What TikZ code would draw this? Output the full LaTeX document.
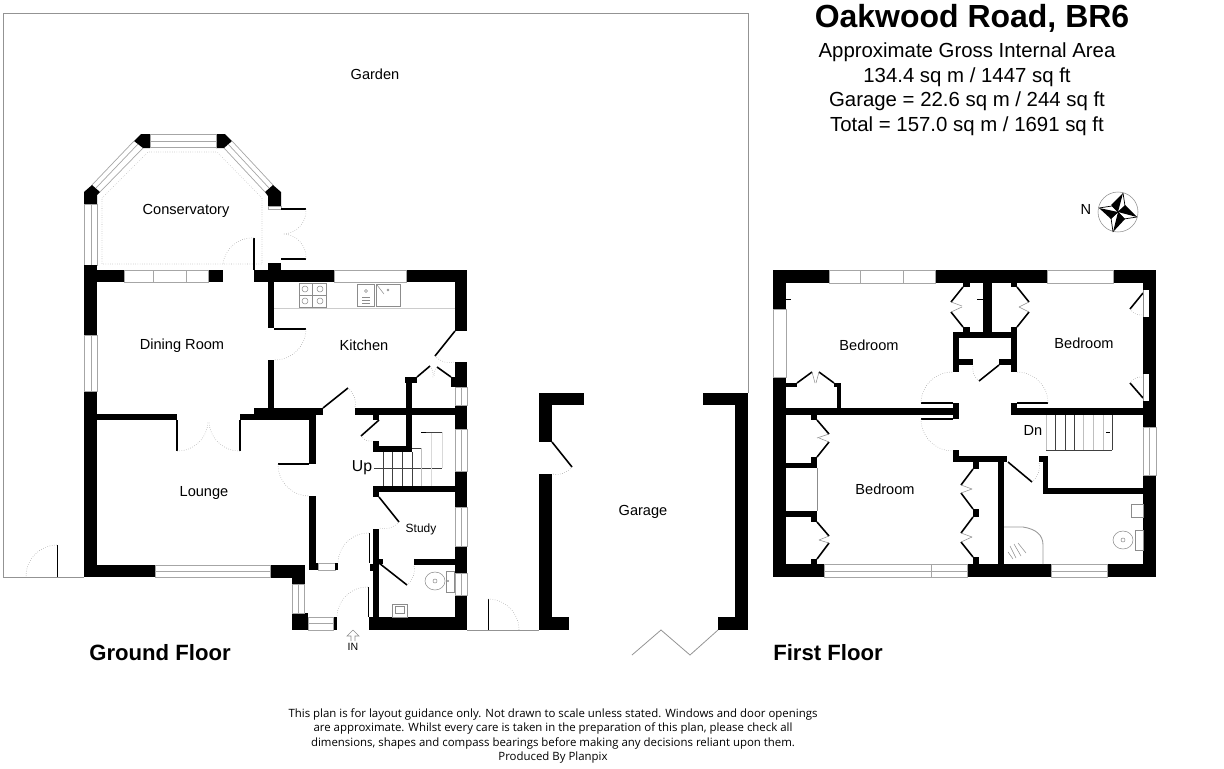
\documentclass[tikz,border=0pt]{standalone}
\usepackage{fontspec}
\setmainfont{Liberation Sans}
\newfontfamily\notefont{Open Sans}

\tikzset{
    wall/.style={fill=black, draw=none},
    leaf/.style={draw=black, line width=0.9pt},
    swing/.style={draw=gray!80, line width=0.3pt, densely dotted},
    glazing/.style={draw=gray!70, line width=0.4pt},
    fitting/.style={draw=gray!90, line width=0.3pt},
    tread/.style={draw=black!75, line width=0.35pt},
    boundary/.style={draw=gray!85, line width=0.45pt},
    roomlabel/.style={font=\fontsize{8.3}{10}\selectfont, inner sep=0pt},
    smalllabel/.style={font=\fontsize{6.8}{9}\selectfont, inner sep=0pt},
    arealabel/.style={font=\fontsize{11.6}{14}\selectfont, inner sep=0pt},
    floorlabel/.style={font=\fontsize{12.6}{15}\selectfont\bfseries, inner sep=0pt},
    notelabel/.style={font=\fontsize{6.5}{8.3}\selectfont\notefont, inner sep=0pt, align=center}
}

\begin{document}
\begin{tikzpicture}[x=0.02cm, y=-0.02cm]

    \useasboundingbox (0,0) rectangle (1224,768);

    % garden boundary
    \draw[boundary] (84,577) -- (3,577) -- (3,13) -- (748,13) -- (748,393);
    \draw[leaf, line width=0.5pt] (57,545) -- (57,577);
    \draw[swing] (57,545) to[bend right=45] (26,577);
    \draw[boundary] (467,630) -- (539,630);
    \draw[leaf, line width=0.5pt] (488,599) -- (488,630);
    \draw[swing] (488,599) to[bend left=45] (519,630);

    % conservatory
    \fill[wall] (84,192) -- (92,185) -- (100,192) -- (97,195) -- (97,204) -- (84,204) -- cycle;
    \fill[wall] (265,192) -- (273,185) -- (281,192) -- (281,206) -- (268,206) -- (268,196) -- cycle;
    \fill[wall] (134,141) -- (141,134) -- (150,134) -- (150,148) -- (143,148) -- cycle;
    \fill[wall] (216,134) -- (225,134) -- (232,141) -- (224,148) -- (216,148) -- cycle;
    \draw[glazing] (150,134) rectangle (216,147);
    \draw[glazing] (150,141) -- (216,141);
    \draw[glazing] (134,141) -- (92,185);
    \draw[glazing] (138,144) -- (96,188);
    \draw[glazing] (143,148) -- (100,192);
    \draw[glazing] (232,141) -- (273,185);
    \draw[glazing] (228,144) -- (269,188);
    \draw[glazing] (224,148) -- (265,192);
    \draw[glazing] (84,204) rectangle (97,265);
    \draw[glazing] (91,204) -- (91,265);
    \draw[glazing] (268,206) rectangle (281,209);
    \draw[swing, draw=gray!60] (102,198) -- (148,152) -- (217,152) -- (262,198) -- (262,264) -- (102,264) -- cycle;

    \draw[leaf] (254,238) -- (254,270);
    \draw[swing] (254,238) to[bend right=45] (223,265);
    \draw[leaf] (281,209) -- (306,209);
    \draw[swing] (306,209) to[bend left=45] (284,234);
    \draw[leaf] (281,259) -- (306,259);
    \draw[swing] (306,259) to[bend right=45] (284,234);

    % outer walls, ground floor
    \fill[wall] (84,265) rectangle (97,335);
    \fill[wall] (84,391) rectangle (97,577);
    \fill[wall] (97,270) rectangle (124,282);
    \fill[wall] (208,270) rectangle (223,282);
    \fill[wall] (254,270) rectangle (334,282);
    \fill[wall] (268,263) rectangle (281,270);
    \fill[wall] (406,270) rectangle (467,282);
    \fill[wall] (455,282) rectangle (467,331);
    \fill[wall] (455,362) rectangle (467,387);
    \fill[wall] (451,377) rectangle (455,387);
    \fill[wall] (455,405) rectangle (467,429);
    \fill[wall] (455,471) rectangle (467,507);
    \fill[wall] (455,546) rectangle (467,573);
    \fill[wall] (455,595) rectangle (467,630);
    \fill[wall] (97,565) rectangle (155,577);
    \fill[wall] (270,565) rectangle (305,578);
    \fill[wall] (292,578) rectangle (305,584);
    \fill[wall] (292,613) rectangle (308,630);
    \fill[wall] (333,617) rectangle (337,630);
    \fill[wall] (369,617) rectangle (455,630);

    % windows, ground floor
    \draw[glazing] (124,270) rectangle (208,282);
    \draw[glazing] (153,270) -- (153,282);
    \draw[glazing] (186,270) -- (186,282);
    \draw[glazing] (334,270) rectangle (406,282);
    \draw[glazing] (84,335) rectangle (97,391);
    \draw[glazing] (91,335) -- (91,391);
    \draw[glazing] (155,565) rectangle (270,577);
    \draw[glazing] (155,571) -- (270,571);
    \draw[glazing] (292,584) rectangle (304,613);
    \draw[glazing] (298,584) -- (298,613);
    \draw[glazing] (308,617) rectangle (333,630);
    \draw[glazing] (308,623) -- (333,623);
    \draw[glazing] (318,563) rectangle (335,570);
    \draw[glazing] (455,387) rectangle (467,405);
    \draw[glazing] (461,387) -- (461,405);
    \draw[glazing] (455,429) rectangle (467,471);
    \draw[glazing] (461,429) -- (461,471);
    \draw[glazing] (455,507) rectangle (467,546);
    \draw[glazing] (461,507) -- (461,546);
    \draw[glazing] (455,573) rectangle (467,595);
    \draw[glazing] (461,573) -- (461,595);

    % inner walls, ground floor
    \fill[wall] (97,414) rectangle (177,420);
    \fill[wall] (240,414) rectangle (254,420);
    \fill[wall] (254,408) rectangle (309,420);
    \fill[wall] (309,408) rectangle (323,415);
    \fill[wall] (268,282) rectangle (274,328);
    \fill[wall] (268,360) rectangle (274,408);
    \fill[wall] (309,415) rectangle (316,464);
    \fill[wall] (309,496) rectangle (316,563);
    \fill[wall] (309,563) rectangle (318,570);
    \fill[wall] (335,563) rectangle (338,570);
    \fill[wall] (355,408) rectangle (455,415);
    \fill[wall] (373,415) rectangle (379,420);
    \fill[wall] (373,441) rectangle (379,452);
    \fill[wall] (373,446) rectangle (412,452);
    \fill[wall] (406,377) rectangle (412,452);
    \fill[wall] (405,377) rectangle (417,383);
    \fill[wall] (373,486) rectangle (455,492);
    \fill[wall] (373,492) rectangle (379,497);
    \fill[wall] (373,529) rectangle (379,617);
    \fill[wall] (373,559) rectangle (383,564);
    \fill[wall] (370,564) rectangle (379,571);
    \fill[wall] (414,559) rectangle (455,565);

    % doors, ground floor
    \draw[leaf] (274,329) -- (306,329);
    \draw[swing] (306,329) to[bend left=45] (274,360);
    \draw[leaf] (455,331) -- (435,356);
    \draw[swing] (435,356) to[bend right=30] (455,362);
    \draw[leaf] (417,377) -- (430,366);
    \draw[leaf] (451,377) -- (437,367);
    \draw[swing] (430,366) to[bend left=20] (433,377);
    \draw[swing] (437,367) to[bend right=20] (434,377);
    \draw[leaf] (323,408) -- (348,388);
    \draw[swing] (348,388) to[bend left=30] (355,408);
    \draw[leaf] (177,420) -- (177,451);
    \draw[swing] (177,451) to[bend right=45] (208,421);
    \draw[leaf] (240,420) -- (240,451);
    \draw[swing] (240,451) to[bend left=45] (209,421);
    \draw[leaf] (309,464) -- (278,464);
    \draw[swing] (278,464) to[bend right=45] (309,496);
    \draw[leaf] (379,420) -- (361,436);
    \draw[swing] (361,436) to[bend right=30] (373,441);
    \draw[leaf] (379,497) -- (399,522);
    \draw[swing] (399,522) to[bend left=30] (379,528);
    \draw[leaf] (379,563) -- (407,585);
    \draw[swing] (407,585) to[bend right=30] (414,565);
    \draw[leaf, line width=0.5pt] (369,533) -- (369,563);
    \draw[swing] (369,533) to[bend right=45] (338,563);
    \draw[leaf, line width=0.5pt] (368,587) -- (368,617);
    \draw[swing] (368,587) to[bend right=45] (337,617);

    % kitchen fittings
    \draw[fitting, gray!40] (274,308) -- (455,308);
    \draw[fitting] (299,283) rectangle (326,307);
    \draw[fitting] (312,283) -- (312,307);
    \draw[fitting] (299,295) -- (326,295);
    \draw[fitting] (305,289) circle (3);
    \draw[fitting] (320,289) circle (3);
    \draw[fitting] (305,301) circle (3);
    \draw[fitting] (320,301) circle (3);
    \draw[fitting] (357,284) rectangle (374,306);
    \draw[fitting] (376,284) rectangle (400,306);
    \draw[fitting] (366,291) circle (1.5);
    \draw[fitting] (362,297) -- (370,297);
    \draw[fitting] (362,300) -- (370,300);
    \draw[fitting] (362,303) -- (370,303);
    \draw[fitting] (377,285) -- (384,294);
    \draw[fitting] (388,290) circle (1);

    % stairs, ground floor
    \draw[tread] (374,468) -- (442,468);
    \draw[tread] (383,452) -- (383,486);
    \draw[tread] (392,452) -- (392,486);
    \draw[tread] (402,452) -- (402,486);
    \draw[tread] (412,452) -- (412,486);
    \draw[tread, gray!50] (421,448) -- (421,486);
    \draw[tread, gray!30] (431,432) -- (431,486);
    \draw[tread, gray!30] (442,432) -- (442,468);
    \draw[tread] (412,448) -- (421,448);
    \draw[tread] (422,432) -- (442,432);
    \fill[wall] (421,431.5) rectangle (426,432.5);

    % wc fittings
    \draw[fitting] (435,581) ellipse (10 and 9);
    \draw[fitting] (435,581) circle (2);
    \draw[fitting] (446,571) rectangle (454,592);
    \draw[fitting] (448,581) circle (0.8);
    \draw[fitting] (392,604) rectangle (407,617);
    \draw[fitting] (395,606) rectangle (404,613);

    % in arrow
    \draw[fitting] (353,630) -- (347,636) -- (351,636) -- (351,641);
    \draw[fitting] (353,630) -- (359,636) -- (355,636) -- (355,641);

    % garage
    \fill[wall] (539,393) rectangle (584,405);
    \fill[wall] (539,405) rectangle (552,442);
    \fill[wall] (539,474) rectangle (552,617);
    \fill[wall] (539,617) rectangle (569,630);
    \fill[wall] (703,393) rectangle (748,405);
    \fill[wall] (735,405) rectangle (748,630);
    \fill[wall] (718,617) rectangle (735,630);
    \draw[leaf] (552,442) -- (572,467);
    \draw[swing] (572,467) to[bend left=30] (552,474);
    \draw[boundary] (718,630) -- (690,655) -- (661,630) -- (632,655);

    % outer walls, first floor
    \fill[wall] (773,270) rectangle (829,283);
    \fill[wall] (935,270) rectangle (1047,283);
    \fill[wall] (1113,270) rectangle (1156,283);
    \fill[wall] (773,283) rectangle (786,309);
    \fill[wall] (773,377) rectangle (786,577);
    \fill[wall] (1143,283) rectangle (1156,290);
    \fill[wall] (1149,290) rectangle (1156,317);
    \fill[wall] (1143,317) rectangle (1156,374);
    \fill[wall] (1149,374) rectangle (1156,401);
    \fill[wall] (1143,401) rectangle (1156,427);
    \fill[wall] (1143,475) rectangle (1156,577);
    \fill[wall] (786,564) rectangle (824,577);
    \fill[wall] (967,564) rectangle (1051,577);
    \fill[wall] (1107,564) rectangle (1143,577);

    % windows, first floor
    \draw[glazing] (829,270) rectangle (935,283);
    \draw[glazing] (860,270) -- (860,283);
    \draw[glazing] (903,270) -- (903,283);
    \draw[glazing] (1047,270) rectangle (1113,283);
    \draw[glazing] (773,309) rectangle (786,377);
    \draw[glazing] (1143,427) rectangle (1156,475);
    \draw[glazing] (1149,427) -- (1149,475);
    \draw[glazing] (824,564) rectangle (967,577);
    \draw[glazing] (824,571) -- (967,571);
    \draw[glazing] (931,564) -- (931,577);
    \draw[glazing] (1051,564) rectangle (1107,577);
    \draw[glazing] (1051,571) -- (1107,571);

    % inner walls, first floor
    \fill[wall] (983,283) rectangle (992,332);
    \fill[wall] (953,332) rectangle (1017,338);
    \fill[wall] (953,338) rectangle (959,372);
    \fill[wall] (1011,338) rectangle (1017,372);
    \fill[wall] (959,359) rectangle (973,365);
    \fill[wall] (999,359) rectangle (1011,365);
    \fill[wall] (963,283) rectangle (970,287);
    \fill[wall] (963,327) rectangle (970,332);
    \fill[wall] (1011,283) rectangle (1017,287);
    \fill[wall] (1011,327) rectangle (1017,332);
    \fill[wall] (786,408) rectangle (959,415);
    \fill[wall] (953,403) rectangle (959,419);
    \fill[wall] (1011,408) rectangle (1143,415);
    \fill[wall] (1011,403) rectangle (1017,408);
    \fill[wall] (786,383) rectangle (797,387);
    \fill[wall] (834,383) rectangle (841,387);
    \fill[wall] (837,387) rectangle (841,408);
    \fill[wall] (811,415) rectangle (817,420);
    \fill[wall] (811,457) rectangle (817,463);
    \fill[wall] (786,463) rectangle (817,468);
    \fill[wall] (786,511) rectangle (817,517);
    \fill[wall] (811,517) rectangle (817,522);
    \fill[wall] (811,559) rectangle (817,564);
    \fill[wall] (953,450) rectangle (959,462);
    \fill[wall] (953,456) rectangle (1007,462);
    \fill[wall] (973,462) rectangle (979,469);
    \fill[wall] (973,509) rectangle (979,517);
    \fill[wall] (973,557) rectangle (979,564);
    \fill[wall] (998,462) rectangle (1004,564);
    \fill[wall] (1039,456) rectangle (1048,462);
    \fill[wall] (1043,462) rectangle (1048,494);
    \fill[wall] (1048,488) rectangle (1143,494);

    % doors, first floor
    \draw[leaf] (921,403) -- (953,403);
    \draw[swing] (921,403) to[bend left=45] (953,372);
    \draw[leaf] (1017,403) -- (1048,403);
    \draw[swing] (1048,403) to[bend right=45] (1017,372);
    \draw[leaf] (921,419) -- (953,419);
    \draw[swing] (921,419) to[bend right=45] (953,451);
    \draw[leaf] (999,365) -- (979,381);
    \draw[swing] (979,381) to[bend left=30] (973,365);
    \draw[leaf] (1008,462) -- (1032,482);
    \draw[swing] (1032,482) to[bend right=30] (1039,462);
    \draw[leaf] (1143,293) -- (1130,309);
    \draw[swing] (1130,309) to[bend right=30] (1143,315);
    \draw[fitting] (1143,290) -- (1143,317);
    \draw[leaf] (1143,398) -- (1130,383);
    \draw[swing] (1130,383) to[bend left=30] (1143,377);
    \draw[fitting] (1143,374) -- (1143,401);

    % wardrobes, first floor
    \draw[leaf] (963,287) -- (951,302);
    \draw[fitting] (951,302) -- (962,306);
    \draw[leaf] (963,327) -- (951,312);
    \draw[fitting] (951,312) -- (962,307);
    \draw[leaf] (1017,287) -- (1029,302);
    \draw[fitting] (1029,302) -- (1019,307);
    \draw[leaf] (1017,327) -- (1029,312);
    \draw[fitting] (1029,312) -- (1019,307);
    \draw[leaf] (797,383) -- (812,372);
    \draw[fitting] (812,372) -- (815,383);
    \draw[leaf] (834,383) -- (819,372);
    \draw[fitting] (819,372) -- (816,383);
    \draw[leaf] (817,420) -- (829,434);
    \draw[fitting] (829,434) -- (817,438);
    \draw[leaf] (817,457) -- (829,442);
    \draw[fitting] (829,442) -- (819,438);
    \draw[fitting] (817,468) -- (817,511);
    \draw[leaf] (817,522) -- (829,536);
    \draw[fitting] (829,536) -- (819,540);
    \draw[leaf] (817,559) -- (829,543);
    \draw[fitting] (829,543) -- (819,540);
    \draw[leaf] (973,469) -- (961,485);
    \draw[fitting] (961,485) -- (972,489);
    \draw[leaf] (973,509) -- (961,493);
    \draw[fitting] (961,493) -- (972,489);
    \draw[leaf] (973,517) -- (961,533);
    \draw[fitting] (961,533) -- (972,537);
    \draw[leaf] (973,557) -- (961,542);
    \draw[fitting] (961,542) -- (972,537);
    \fill[wall] (786,298.5) rectangle (791,300);
    \fill[wall] (977,298.5) rectangle (983,300);

    % stairs, first floor
    \draw[tread] (1046,450) -- (1112,450);
    \draw[tread, gray!50] (1046,415) -- (1046,450);
    \draw[tread] (1055,415) -- (1055,450);
    \draw[tread] (1065,415) -- (1065,450);
    \draw[tread] (1074,415) -- (1074,450);
    \draw[tread, gray!50] (1083,415) -- (1083,450);
    \draw[tread, gray!50] (1093,415) -- (1093,450);
    \draw[tread, gray!50] (1103,415) -- (1103,450);
    \draw[tread] (1112,415) -- (1112,450);
    \fill[wall] (1106,431.5) rectangle (1110,432.5);

    % bathroom fittings
    \draw[leaf, line width=0.5pt, draw=gray!80] (1004,527) -- (1023,527) .. controls (1036,529) and (1043,535) .. (1043,545) -- (1043,564);
    \draw[fitting] (1010,546) -- (1016,558);
    \draw[fitting] (1014,544) -- (1021,556);
    \draw[fitting] (1018,543) -- (1026,553);
    \draw[fitting] (1008,552) -- (1013,559);
    \draw[fitting] (1131,504) rectangle (1143,517);
    \draw[fitting] (1123,540) ellipse (10 and 9);
    \draw[fitting] (1123,540) circle (2);
    \draw[fitting] (1135,530) rectangle (1143,550);

    % compass
    \draw[fitting] (1118,212) circle (20);
    \fill[wall] (1123,193) -- (1118,212) -- (1111,205) -- cycle;
    \draw[leaf, line width=0.4pt] (1123,193) -- (1125,206) -- (1118,212);
    \fill[wall] (1137,217) -- (1118,212) -- (1125,205) -- cycle;
    \draw[leaf, line width=0.4pt] (1137,217) -- (1124,219) -- (1118,212);
    \fill[wall] (1113,232) -- (1118,212) -- (1125,219) -- cycle;
    \draw[leaf, line width=0.4pt] (1113,232) -- (1111,218) -- (1118,212);
    \fill[wall] (1099,208) -- (1118,212) -- (1111,219) -- cycle;
    \draw[leaf, line width=0.4pt] (1099,208) -- (1112,206) -- (1118,212);

    % texts
    \node[inner sep=0pt, font=\fontsize{18.2}{22}\selectfont\bfseries] (title) at (972,18) {Oakwood Road, BR6};
    \node[arealabel] (gross) at (967,52) {Approximate Gross Internal Area};
    \node[arealabel] (house) at (967,77) {134.4 sq m / 1447 sq ft};
    \node[arealabel] (garagearea) at (967,101) {Garage = 22.6 sq m / 244 sq ft};
    \node[arealabel] (total) at (967,126) {Total = 157.0 sq m / 1691 sq ft};

    \node[roomlabel] (garden) at (375,74) {Garden};
    \node[roomlabel] (conservatory) at (186,211) {Conservatory};
    \node[roomlabel] (dining) at (182,346) {Dining Room};
    \node[roomlabel] (kitchen) at (364,345) {Kitchen};
    \node[roomlabel] (lounge) at (204,493) {Lounge};
    \node[smalllabel] (study) at (421,529) {Study};
    \node[roomlabel, font=\fontsize{9}{11}\selectfont] (up) at (362,468) {Up};
    \node[inner sep=0pt, font=\fontsize{6}{8}\selectfont] (in) at (353,647) {IN};
    \node[roomlabel] (garage) at (643,512) {Garage};
    \node[roomlabel] (bedone) at (869,345) {Bedroom};
    \node[roomlabel] (bedtwo) at (1084,343) {Bedroom};
    \node[roomlabel] (bedthree) at (885,489) {Bedroom};
    \node[roomlabel] (dn) at (1033,430) {Dn};
    \node[roomlabel] (north) at (1086,209) {N};

    \node[floorlabel] (ground) at (160,653) {Ground Floor};
    \node[floorlabel] (first) at (828,653) {First Floor};

    \node[notelabel] (note) at (553,736) {This plan is for layout guidance only. Not drawn to scale unless stated. Windows and door openings\\are approximate. Whilst every care is taken in the preparation of this plan, please check all\\dimensions, shapes and compass bearings before making any decisions reliant upon them.\\Produced By Planpix};

\end{tikzpicture}
\end{document}
